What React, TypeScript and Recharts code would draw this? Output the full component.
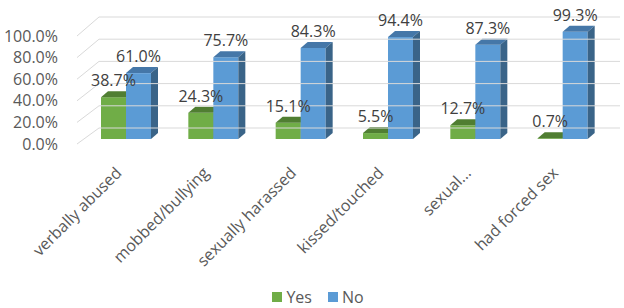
import { BarChart, Bar, XAxis, YAxis, Legend, LabelList } from "recharts";

const categories = [
  "verbally abused",
  "mobbed/bullying",
  "sexually harassed",
  "kissed/touched",
  "sexual...",
  "had forced sex",
];
const yesValues = [38.7, 24.3, 15.1, 5.5, 12.7, 0.7];
const noValues = [61.0, 75.7, 84.3, 94.4, 87.3, 99.3];
const yTicks = [0, 20, 40, 60, 80, 100];

const data = categories.map((name, i) => ({ name, yes: yesValues[i], no: noValues[i] }));

const FONT = "'Open Sans', sans-serif";
const DX = 7;
const DY = 6;

function make3D(front: string, top: string, side: string) {
  return (props: any) => {
    const { x, y, width, height } = props;
    const b = y + height;
    return (
      <g>
        <rect x={x} y={y} width={width} height={height} fill={front} />
        <polygon points={`${x},${y} ${x + DX},${y - DY} ${x + width + DX},${y - DY} ${x + width},${y}`} fill={top} />
        <polygon points={`${x + width},${y} ${x + width + DX},${y - DY} ${x + width + DX},${b - DY} ${x + width},${b}`} fill={side} />
      </g>
    );
  };
}

const YesShape = make3D("#70AD47", "#507E32", "#4B7A2E");
const NoShape = make3D("#5B9BD5", "#4577A8", "#3A6488");

function YTick(props: any) {
  const { x, y, payload } = props;
  const v = payload.value as number;
  const backY = y - 11 - 0.03 * v;
  return (
    <g>
      <line x1={x + 3} y1={y + 5} x2={x + 25} y2={backY} stroke="#D9D9D9" />
      <line x1={x + 25} y1={backY} x2={620} y2={backY} stroke="#D9D9D9" />
      <text x={x - 16} y={y + 5} dy="0.35em" textAnchor="end" fontSize={16} fill="#595959" fontFamily={FONT}>
        {v.toFixed(1)}%
      </text>
    </g>
  );
}

function XTick(props: any) {
  const { x, y, payload } = props;
  const tx = x - 7;
  const ty = y + 23;
  return (
    <text
      x={tx}
      y={ty}
      dy="0.35em"
      textAnchor="end"
      transform={`rotate(-45, ${tx}, ${ty})`}
      fontSize={16}
      fill="#595959"
      fontFamily={FONT}
    >
      {payload.value}
    </text>
  );
}

function ValueLabel(props: any) {
  const { x, y, width, value } = props;
  return (
    <text x={x + width / 2} y={y - 11} textAnchor="middle" fontSize={16} fill="#404040" fontFamily={FONT}>
      {Number(value).toFixed(1)}%
    </text>
  );
}

function LegendContent() {
  const items = [
    { label: "Yes", color: "#70AD47" },
    { label: "No", color: "#5B9BD5" },
  ];
  return (
    <div style={{ display: "flex", justifyContent: "center", gap: 16, fontFamily: FONT, fontSize: 16, color: "#595959" }}>
      {items.map((it) => (
        <div key={it.label} style={{ display: "flex", alignItems: "center", gap: 4 }}>
          <span style={{ width: 10, height: 10, background: it.color, display: "inline-block" }} />
          <span>{it.label}</span>
        </div>
      ))}
    </div>
  );
}

export default function App() {
  return (
    <div style={{ position: "absolute", left: 0, top: 0, background: "#fff" }}>
      <BarChart
        width={624}
        height={308}
        data={data}
        margin={{ top: 31, right: 18, left: 0, bottom: 0 }}
        barSize={25}
        barGap={0}
      >
        <YAxis
          width={82}
          domain={[0, 100]}
          ticks={yTicks}
          interval={0}
          axisLine={false}
          tickLine={false}
          tick={<YTick />}
        />
        <XAxis
          dataKey="name"
          axisLine={false}
          tickLine={false}
          interval={0}
          height={147}
          tick={<XTick />}
        />
        <Legend verticalAlign="bottom" height={22} content={<LegendContent />} wrapperStyle={{ left: 0, width: 636 }} />
        <Bar dataKey="yes" name="Yes" shape={YesShape} isAnimationActive={false}>
          <LabelList dataKey="yes" content={<ValueLabel />} />
        </Bar>
        <Bar dataKey="no" name="No" shape={NoShape} isAnimationActive={false}>
          <LabelList dataKey="no" content={<ValueLabel />} />
        </Bar>
      </BarChart>
    </div>
  );
}
